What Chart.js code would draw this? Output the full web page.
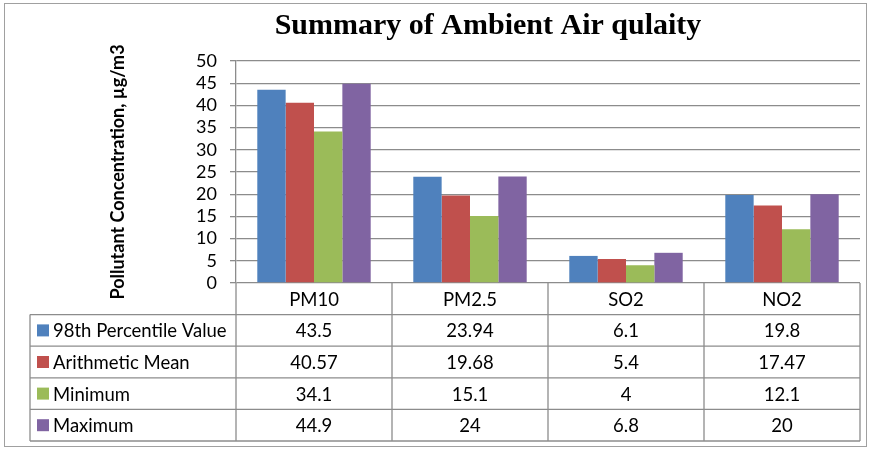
<!DOCTYPE html>
<html>
<head>
<meta charset="utf-8">
<script src="https://cdn.jsdelivr.net/npm/chart.js@4/dist/chart.umd.min.js"></script>
<style>
html,body{margin:0;padding:0;background:#fff;}
#wrap{width:870px;height:449px;position:relative;}
</style>
</head>
<body>
<div id="wrap"><canvas id="c" width="870" height="449"></canvas></div>
<script>
const chartTitle = 'Summary of Ambient Air qulaity';
const yAxisTitle = 'Pollutant Concentration, µg/m3';
const categories = ['PM10', 'PM2.5', 'SO2', 'NO2'];
const seriesNames = ['98th Percentile Value', 'Arithmetic Mean', 'Minimum', 'Maximum'];
const percentile98 = [43.5, 23.94, 6.1, 19.8];
const arithmeticMean = [40.57, 19.68, 5.4, 17.47];
const minimum = [34.1, 15.1, 4, 12.1];
const maximum = [44.9, 24, 6.8, 20];
const yMin = 0, yMax = 50, yStep = 5;

const colors = ['#4F81BD', '#C0504D', '#9BBB59', '#8064A2'];
const seriesValues = [percentile98, arithmeticMean, minimum, maximum];
const gridColor = '#8c8c8c';
const tableFont = '18.5px Lato';

const tablePlugin = {
  id: 'dataTable',
  afterDraw(chart) {
    const ctx = chart.ctx;
    const xs = chart.scales.x;
    const area = chart.chartArea;
    const colW = xs.width / categories.length;
    const rowH = 31.6;
    const tableTop = area.bottom;
    const headerBottom = tableTop + rowH;
    const tableBottom = headerBottom + rowH * seriesNames.length;
    const leftX = 30;
    ctx.save();
    // title
    ctx.fillStyle = '#000';
    ctx.font = 'bold 30px "Liberation Serif"';
    ctx.textAlign = 'center';
    ctx.textBaseline = 'middle';
    ctx.fillText(chartTitle, 488, 26);

    ctx.strokeStyle = gridColor;
    ctx.lineWidth = 1.3;
    for (let i = 0; i <= categories.length; i++) {
      const x = area.left + i * colW;
      ctx.beginPath();
      ctx.moveTo(x, tableTop);
      ctx.lineTo(x, tableBottom);
      ctx.stroke();
    }
    ctx.beginPath();
    ctx.moveTo(leftX, headerBottom);
    ctx.lineTo(leftX, tableBottom);
    ctx.stroke();
    for (let r = 0; r <= seriesNames.length; r++) {
      const y = headerBottom + r * rowH;
      ctx.beginPath();
      ctx.moveTo(leftX, y);
      ctx.lineTo(area.right, y);
      ctx.stroke();
    }
    ctx.fillStyle = '#000';
    ctx.font = tableFont;
    ctx.textAlign = 'center';
    ctx.textBaseline = 'middle';
    categories.forEach((c, i) => {
      ctx.fillText(c, xs.getPixelForValue(i), tableTop + rowH / 2 + 1);
    });
    seriesNames.forEach((name, r) => {
      const yc = headerBottom + r * rowH + rowH / 2 + 1;
      ctx.fillStyle = colors[r];
      ctx.fillRect(leftX + 7, yc - 7, 12, 12);
      ctx.fillStyle = '#000';
      ctx.textAlign = 'left';
      ctx.fillText(name, leftX + 23, yc);
      ctx.textAlign = 'center';
      seriesValues[r].forEach((v, i) => {
        ctx.fillText(String(v), xs.getPixelForValue(i), yc);
      });
    });
    ctx.strokeStyle = '#a0a0a0';
    ctx.lineWidth = 1;
    ctx.strokeRect(4.5, 3.5, 862, 443);
    ctx.restore();
  }
};

new Chart(document.getElementById('c'), {
  type: 'bar',
  data: {
    labels: categories,
    datasets: seriesNames.map((n, i) => ({
      label: n,
      data: seriesValues[i],
      backgroundColor: colors[i],
      borderWidth: 0,
      categoryPercentage: 0.727,
      barPercentage: 1
    }))
  },
  options: {
    responsive: false,
    animation: false,
    layout: { padding: { left: 100, top: 61, right: 10, bottom: 166 } },
    plugins: { legend: { display: false }, title: { display: false }, tooltip: { enabled: false } },
    scales: {
      x: { display: false },
      y: {
        min: yMin, max: yMax,
        ticks: { stepSize: yStep, autoSkip: false, color: '#000', font: { family: 'Lato', size: 18 }, padding: 13 },
        grid: { color: gridColor, lineWidth: 1.3, tickLength: 6 },
        border: { color: gridColor, width: 1.3 },
        title: { display: true, text: yAxisTitle, color: '#000', font: { family: 'Lato', size: 18, weight: 'bold' }, padding: { top: 7, bottom: 0 } },
        afterFit(scale) { scale.width = 136; }
      }
    }
  },
  plugins: [tablePlugin]
});
</script>
</body>
</html>
